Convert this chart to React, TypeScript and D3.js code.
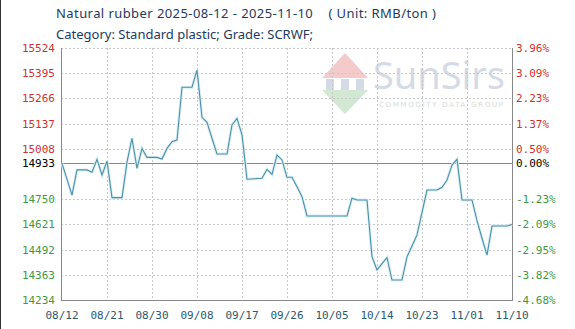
import React from "react";
import * as d3 from "d3";

const dates = [
  "2025-08-12","2025-08-14","2025-08-15","2025-08-17","2025-08-18","2025-08-19","2025-08-20","2025-08-21",
  "2025-08-22","2025-08-24","2025-08-25","2025-08-26","2025-08-27","2025-08-28","2025-08-29","2025-08-31",
  "2025-09-01","2025-09-02","2025-09-03","2025-09-04","2025-09-05","2025-09-07","2025-09-08","2025-09-09",
  "2025-09-10","2025-09-11","2025-09-12","2025-09-14","2025-09-15","2025-09-16","2025-09-17","2025-09-18",
  "2025-09-21","2025-09-22","2025-09-23","2025-09-24","2025-09-25","2025-09-26","2025-09-27","2025-09-28",
  "2025-09-29","2025-09-30","2025-10-08","2025-10-09","2025-10-10","2025-10-12","2025-10-13","2025-10-14",
  "2025-10-15","2025-10-16","2025-10-17","2025-10-19","2025-10-20","2025-10-21","2025-10-22","2025-10-24",
  "2025-10-26","2025-10-27","2025-10-28","2025-10-29","2025-10-30","2025-10-31","2025-11-02","2025-11-03",
  "2025-11-04","2025-11-05","2025-11-06","2025-11-09","2025-11-10"
];
const prices = [
  14933,14771,14900,14900,14888,14954,14874,14945,
  14758,14758,14940,15062,14908,15010,14964,14964,
  14956,15010,15044,15053,15323,15323,15411,15169,
  15144,15062,14981,14981,15130,15164,15079,14852,
  14857,14903,14877,14976,14951,14862,14862,14814,
  14763,14664,14664,14755,14746,14746,14456,14388,
  14420,14451,14336,14336,14455,14510,14567,14797,
  14797,14811,14848,14925,14954,14746,14746,14640,
  14550,14464,14613,14613,14621
];
const baseValue = 14933;
const yTicks = [15524,15395,15266,15137,15008,14750,14621,14492,14363,14234];
const xTickLabels = ["08/12","08/21","08/30","09/08","09/17","09/26","10/05","10/14","10/23","11/01","11/10"];
const title1 = "Natural rubber 2025-08-12 - 2025-11-10    ( Unit: RMB/ton )";
const title2 = "Category: Standard plastic; Grade: SCRWF;";

const W = 575, H = 329;
const L = 61, R = 512, T = 48, B = 300;
const parse = d3.timeParse("%Y-%m-%d");
const fmtTick = d3.timeFormat("%m/%d");

export default function App() {
  const start = parse("2025-08-12")!;
  const end = parse("2025-11-10")!;
  const x = d3.scaleTime().domain([start, end]).range([L + 1, R]);
  const y = d3.scaleLinear().domain([14234, 15524]).range([B, T]);
  const data = dates.map((d, i) => ({ d: parse(d)!, v: prices[i] }));
  const line = d3.line<{ d: Date; v: number }>().x(p => x(p.d)).y(p => y(p.v));
  const xTicks = xTickLabels.map((_, i) => d3.timeDay.offset(start, i * 9));
  const pct = (v: number) => (((v - baseValue) / baseValue) * 100).toFixed(2) + "%";
  const colorFor = (v: number) => (v > baseValue ? "#cc3333" : v < baseValue ? "#3f9a3f" : "#000");
  const mono = "'DejaVu Sans Mono', monospace";
  const allLeft = [...yTicks.slice(0, 5), baseValue, ...yTicks.slice(5)];
  return (
    <svg width={W} height={H} style={{ position: "absolute", left: 0, top: 0, background: "#fff" }}>
      <rect x={0} y={0} width={W} height={H} fill="#fff" />
      {/* watermark */}
      <g opacity={0.35}>
        <polygon points="322,78 345,53 368,78" fill="#e36a6a" />
        <polygon points="322,90 368,90 345,114" fill="#7fc07f" />
        <rect x={326} y={79} width={8} height={11} fill="#8a9ab8" />
        <rect x={341} y={79} width={8} height={11} fill="#8a9ab8" />
        <rect x={356} y={79} width={8} height={11} fill="#8a9ab8" />
        <text x={373} y={89} fontFamily="'Noto Sans', sans-serif" fontSize={38} fill="#8a9ab8" textLength={132}>SunSirs</text>
        <text x={379} y={107} fontFamily="'DejaVu Sans', sans-serif" fontSize={7} fill="#8a9a8a" textLength={124}>COMMODITY DATA GROUP</text>
      </g>
      {/* grid */}
      {yTicks.map(t => (
        <line key={"gy" + t} x1={L} x2={R} y1={Math.round(y(t)) + 0.5} y2={Math.round(y(t)) + 0.5} stroke="#c8c8c8" strokeDasharray="2,2" />
      ))}
      {xTicks.slice(1, -1).map((t, i) => (
        <line key={"gx" + i} x1={Math.round(x(t)) + 0.5} x2={Math.round(x(t)) + 0.5} y1={T} y2={B} stroke="#c8c8c8" strokeDasharray="2,2" />
      ))}
      <line x1={L} x2={R} y1={Math.round(y(baseValue)) + 0.5} y2={Math.round(y(baseValue)) + 0.5} stroke="#888" />
      {/* axes */}
      <line x1={L + 0.5} x2={L + 0.5} y1={T} y2={B + 1} stroke="#888" />
      <line x1={R + 0.5} x2={R + 0.5} y1={T} y2={B + 1} stroke="#888" />
      <line x1={L} x2={R + 1} y1={B + 0.5} y2={B + 0.5} stroke="#888" />
      {/* series */}
      <path d={line(data) || ""} fill="none" stroke="#dcf0f6" strokeWidth={3} />
      <path d={line(data) || ""} fill="none" stroke="#4a8fa6" strokeWidth={1.1} />
      {/* left labels */}
      {allLeft.map(t => (
        <text key={"l" + t} x={55} y={y(t) + 4} textAnchor="end" fontFamily={mono} fontSize={11} fill={colorFor(t)}>{t}</text>
      ))}
      {allLeft.map(t => (
        <text key={"r" + t} x={516} y={y(t) + 4} textAnchor="start" fontFamily={mono} fontSize={11} fill={colorFor(t)}>{pct(t)}</text>
      ))}
      {xTicks.map((t, i) => (
        <text key={"x" + i} x={x(t)} y={319} textAnchor="middle" fontFamily={mono} fontSize={11} fill="#2a5a70">{fmtTick(t)}</text>
      ))}
      <text x={56} y={18} fontFamily="'Noto Sans', sans-serif" fontSize={13} fill="#1e3a5c" style={{ whiteSpace: "pre" }} textLength={380}>{title1}</text>
      <text x={56} y={39} fontFamily="'Noto Sans', sans-serif" fontSize={13} fill="#1e3a5c">{title2}</text>
      <line x1={0.5} x2={0.5} y1={0} y2={H} stroke="#333" />
    </svg>
  );
}
